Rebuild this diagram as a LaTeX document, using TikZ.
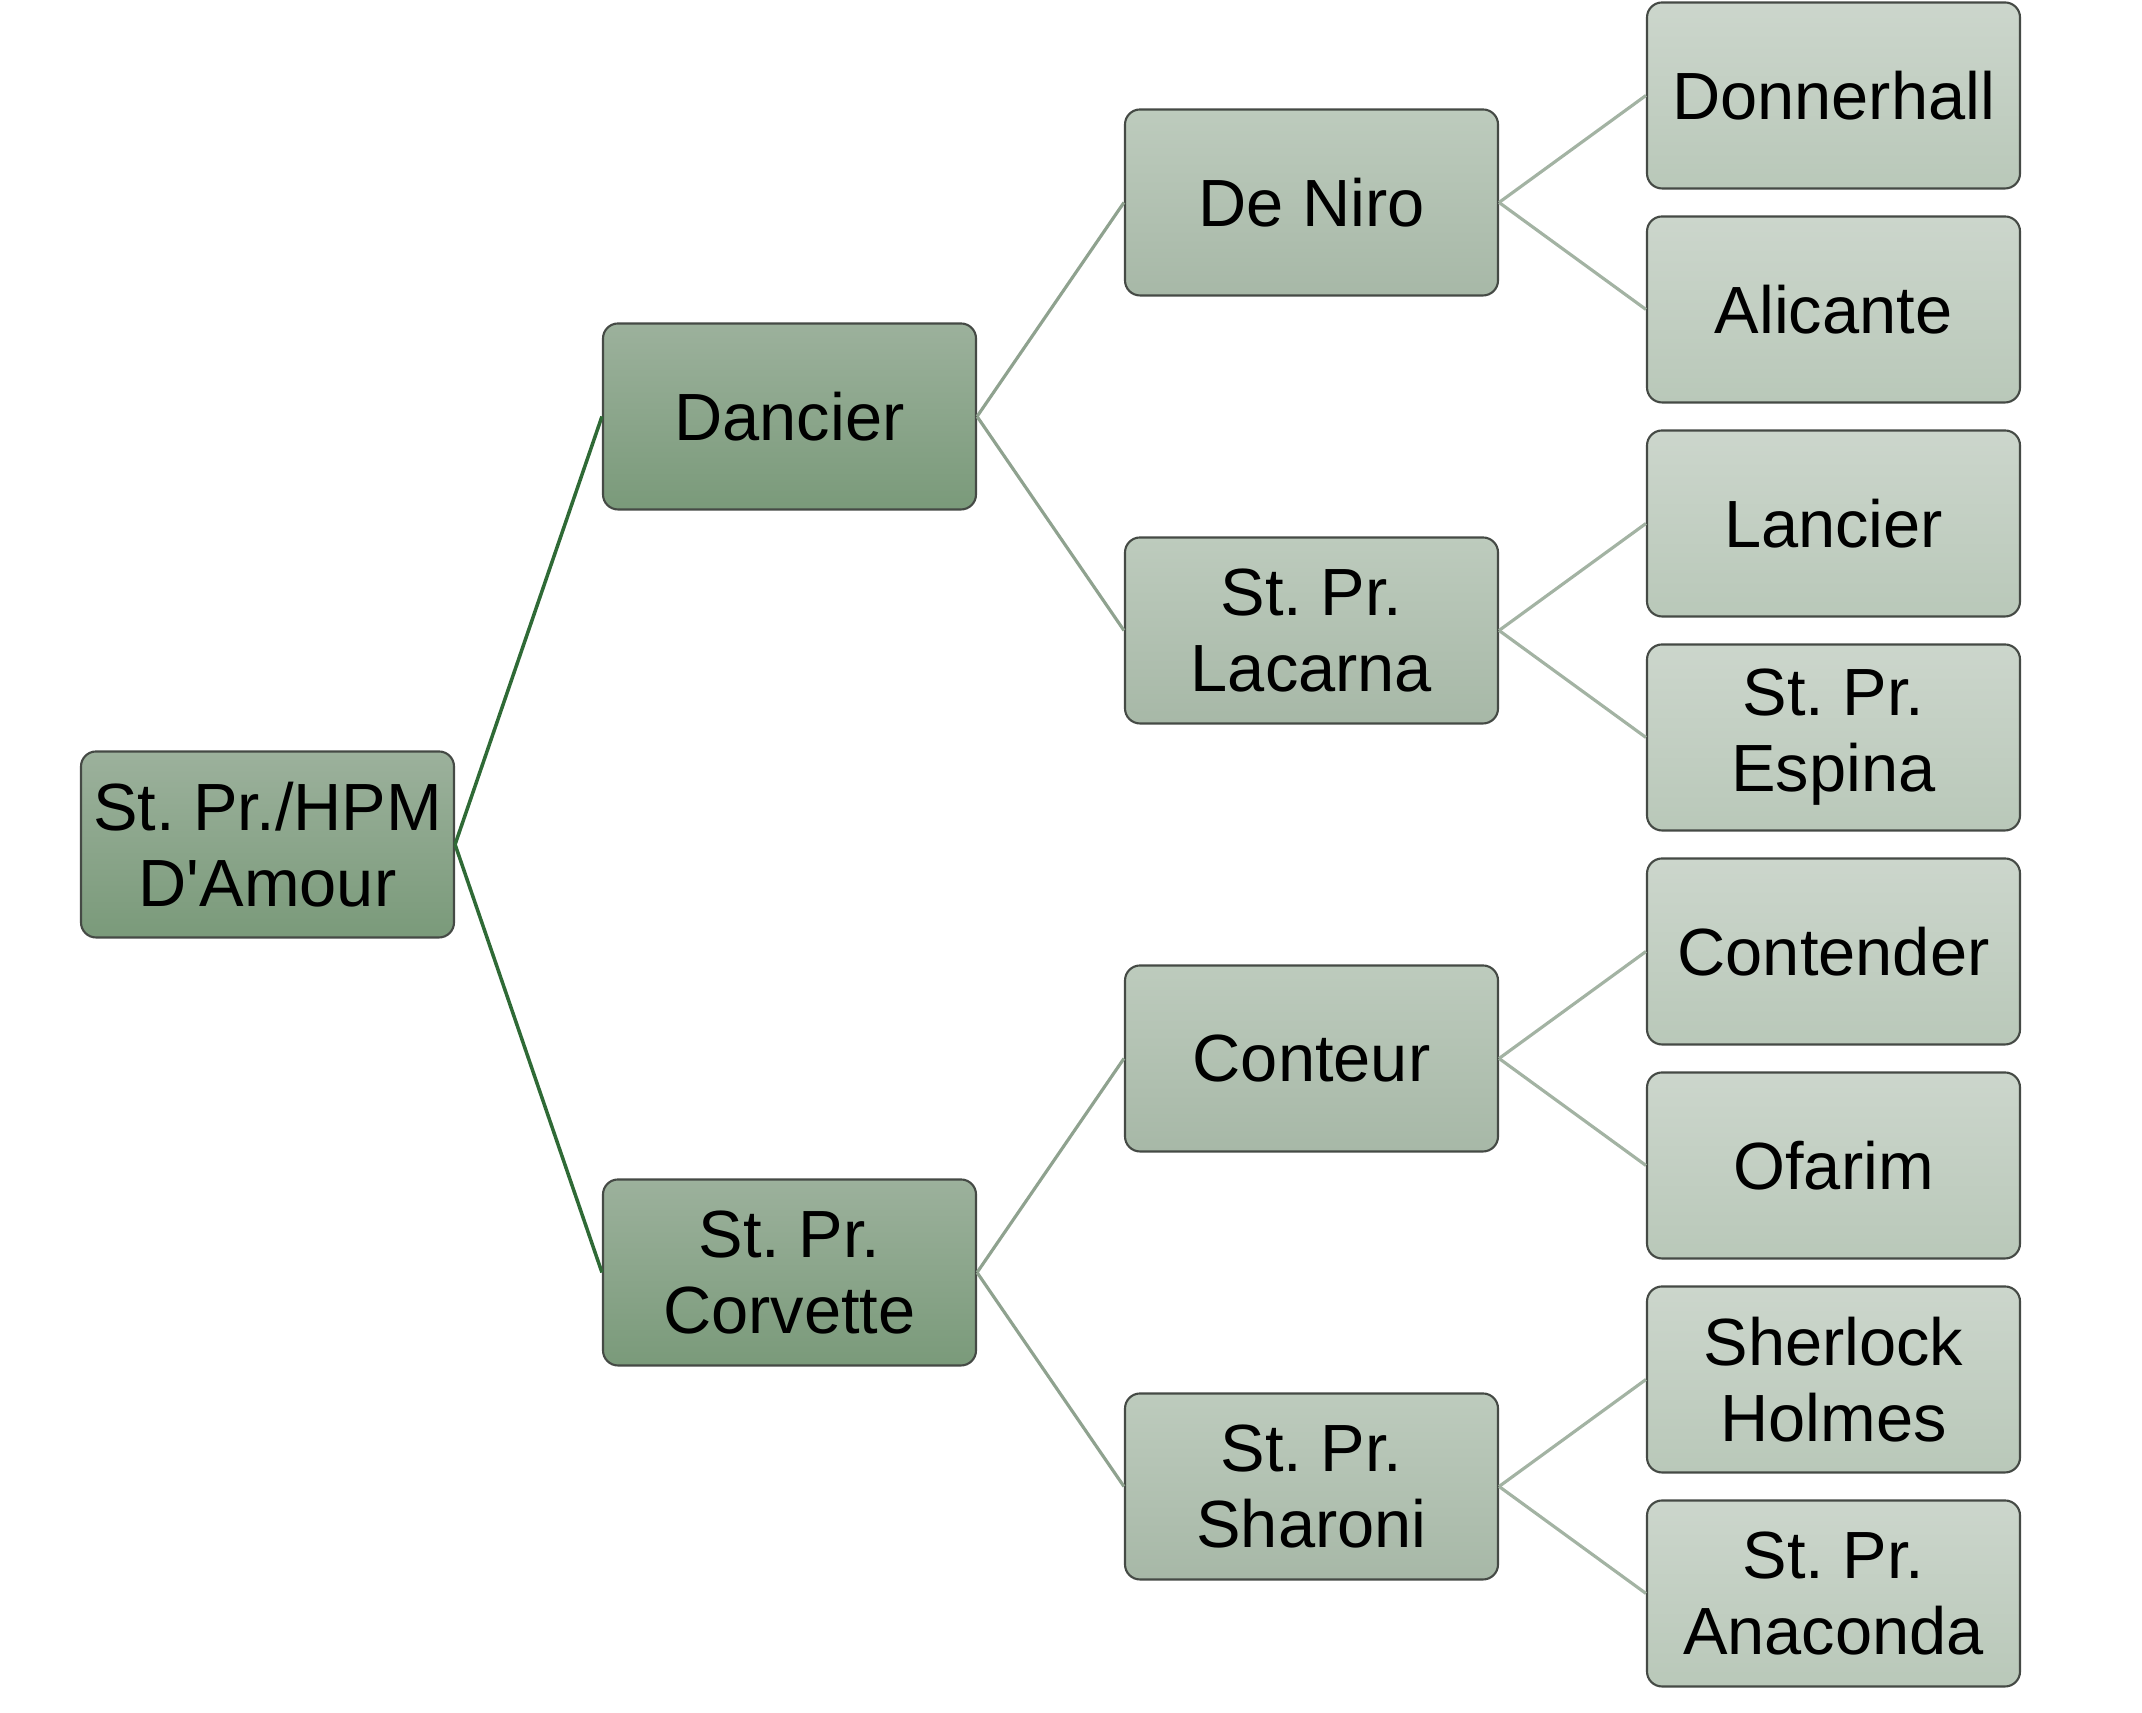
\documentclass[tikz,border=0pt]{standalone}
\usepackage{xcolor}
\usepackage{fontspec}
\setmainfont{Liberation Sans}
\usepackage{tikz}
\frenchspacing

\definecolor{rootTop}{HTML}{9CB19C}
\definecolor{rootBot}{HTML}{7A9A7A}
\definecolor{midTop}{HTML}{BDCBBD}
\definecolor{midBot}{HTML}{A7B8A7}
\definecolor{leafTop}{HTML}{CCD6CC}
\definecolor{leafBot}{HTML}{B9C8B9}
\definecolor{boxLine}{HTML}{454A45}
\definecolor{linkDark}{HTML}{2F6A36}
\definecolor{linkMid}{HTML}{8FA28F}
\definecolor{linkLight}{HTML}{A3B3A3}

\begin{document}
\begin{tikzpicture}[
    horse/.style={draw=boxLine, line width=0.6pt, rounded corners=0.15cm,
        minimum width=3.73cm, minimum height=1.86cm, inner sep=0pt,
        align=center, font=\fontsize{19}{21.6}\selectfont},
    darkbox/.style={horse, top color=rootTop, bottom color=rootBot},
    midbox/.style={horse, top color=midTop, bottom color=midBot},
    leafbox/.style={horse, top color=leafTop, bottom color=leafBot},
    linkA/.style={draw=linkDark, line width=1pt},
    linkB/.style={draw=linkMid, line width=0.9pt},
    linkC/.style={draw=linkLight, line width=0.9pt}
]
\useasboundingbox (0,0) rectangle (21.42,17.13);

% ===== Stamm =====
\node[darkbox] (root) at (2.675,8.685) {St. Pr./HPM\\D\textquotesingle Amour};

% ===== Eltern =====
\node[darkbox] (dancier)  at (7.895,12.965) {Dancier};
\node[darkbox] (corvette) at (7.895,4.405)  {St. Pr.\\Corvette};

% ===== Grosseltern =====
\node[midbox] (deniro)  at (13.115,15.105) {De Niro};
\node[midbox] (lacarna) at (13.115,10.825) {St. Pr.\\Lacarna};
\node[midbox] (conteur) at (13.115,6.545)  {Conteur};
\node[midbox] (sharoni) at (13.115,2.265)  {St. Pr.\\Sharoni};

% ===== Urgrosseltern =====
\node[leafbox] (donnerhall) at (18.335,16.175) {Donnerhall};
\node[leafbox] (alicante)   at (18.335,14.035) {Alicante};
\node[leafbox] (lancier)    at (18.335,11.895) {Lancier};
\node[leafbox] (espina)     at (18.335,9.755)  {St. Pr.\\Espina};
\node[leafbox] (contender)  at (18.335,7.615)  {Contender};
\node[leafbox] (ofarim)     at (18.335,5.475)  {Ofarim};
\node[leafbox] (sherlock)   at (18.335,3.335)  {Sherlock\\Holmes};
\node[leafbox] (anaconda)   at (18.335,1.195)  {St. Pr.\\Anaconda};

% ===== Linien =====
\draw[linkA] (root.east) -- (dancier.west);
\draw[linkA] (root.east) -- (corvette.west);

\draw[linkB] (dancier.east) -- (deniro.west);
\draw[linkB] (dancier.east) -- (lacarna.west);
\draw[linkB] (corvette.east) -- (conteur.west);
\draw[linkB] (corvette.east) -- (sharoni.west);

\draw[linkC] (deniro.east) -- (donnerhall.west);
\draw[linkC] (deniro.east) -- (alicante.west);
\draw[linkC] (lacarna.east) -- (lancier.west);
\draw[linkC] (lacarna.east) -- (espina.west);
\draw[linkC] (conteur.east) -- (contender.west);
\draw[linkC] (conteur.east) -- (ofarim.west);
\draw[linkC] (sharoni.east) -- (sherlock.west);
\draw[linkC] (sharoni.east) -- (anaconda.west);
\end{tikzpicture}
\end{document}
